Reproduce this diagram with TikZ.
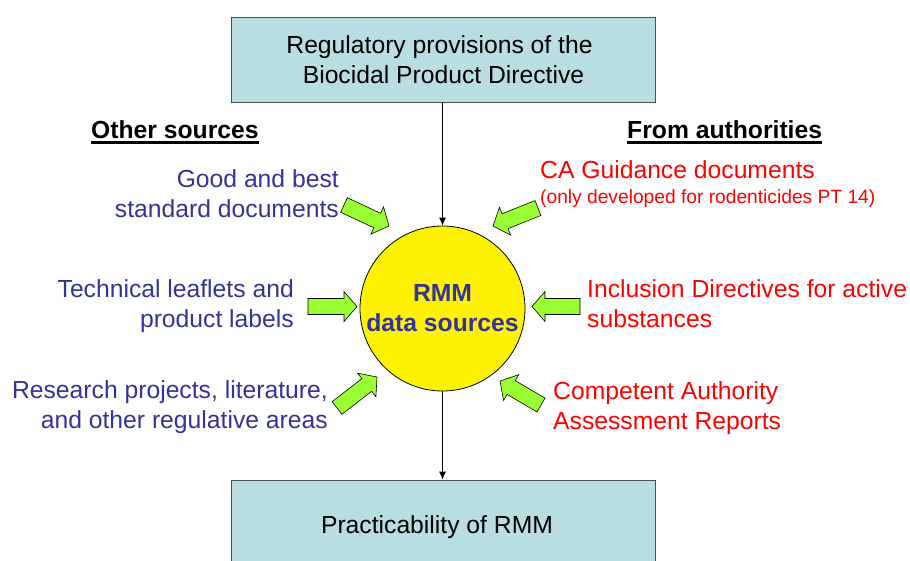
\documentclass[tikz,border=0pt]{standalone}
\usepackage{fontspec}
\setmainfont{Liberation Sans}
\usetikzlibrary{calc,arrows.meta}
\definecolor{boxfill}{RGB}{185,222,226}
\definecolor{boxline}{RGB}{70,80,80}
\definecolor{srcblue}{RGB}{51,51,153}
\definecolor{authred}{RGB}{255,0,0}
\definecolor{arrgreen}{RGB}{153,255,51}
\tikzset{
  bigfont/.style={font=\fontsize{24.7}{29.5}\selectfont},
  smallfont/.style={font=\fontsize{19.2}{23}\selectfont},
  mainbox/.style={draw=boxline,line width=0.8pt,fill=boxfill,inner sep=0pt,bigfont,align=center},
  srctext/.style={text=srcblue,bigfont,inner sep=0pt,align=right,anchor=east},
  authtext/.style={text=authred,bigfont,inner sep=0pt,align=left,anchor=west},
  heading/.style={font=\fontsize{24.7}{29.5}\selectfont\bfseries,inner sep=0pt,anchor=base west},
  uline/.style={line width=2.8pt},
  flow/.style={-{Latex[length=8pt,width=7pt]},line width=0.8pt},
  garrowstyle/.style={draw=black,line width=0.6pt,fill=arrgreen,line join=miter}
}
\newcommand{\garrow}[2]{%
  \path ($(#2)!13pt!(#1)$) coordinate (gh);
  \draw[garrowstyle] ($(#1)!8pt!90:(#2)$) -- ($(gh)!8pt!90:(#2)$) -- ($(gh)!15pt!90:(#2)$) -- (#2)
    -- ($(gh)!15pt!-90:(#2)$) -- ($(gh)!8pt!-90:(#2)$) -- ($(#1)!8pt!-90:(#2)$) -- cycle;
}
\begin{document}
\begin{tikzpicture}[x=1pt,y=-1pt]
\useasboundingbox (0,0) rectangle (910,560);
\fill[white] (0,0) rectangle (910,560);

% boxes
\node[mainbox,minimum width=424pt,minimum height=85pt] (top) at (443.5,59.5)
  {\hspace*{-8pt}Regulatory provisions of the\\Biocidal Product Directive};
\node[mainbox,minimum width=424pt,minimum height=94pt] (bot) at (443,527)
  {\hspace*{-12pt}Practicability of RMM};

% central circle
\node[circle,draw=black,line width=0.8pt,fill=yellow,minimum size=165pt,inner sep=0pt,
  text=srcblue,font=\fontsize{24.7}{30}\selectfont\bfseries,align=center] (rmm) at (442.5,308.5)
  {RMM\\data sources};

% flow arrows
\draw[flow] (top.south -| rmm.north) -- (rmm.north);
\draw[flow] (rmm.south) -- (bot.north -| rmm.south);

% headings
\node[heading] (os) at (91,138) {Other sources};
\draw[uline] ([yshift=-4.5pt]os.base west) -- ([yshift=-4.5pt]os.base east);
\node[heading] (fa) at (627,138) {From authorities};
\draw[uline] ([yshift=-4.5pt]fa.base west) -- ([yshift=-4.5pt]fa.base east);

% other sources texts
\node[srctext] (s1) at (339,193.5) {Good and best\\standard documents};
\node[srctext] (s2) at (294,306) {Technical leaflets and\\product labels};
\node[srctext] (s3) at (328,407) {Research projects, literature,\\and other regulative areas};

% authority texts
\node[text=authred,bigfont,inner sep=0pt,anchor=base west] (a1) at (540,178) {CA Guidance documents};
\node[text=authred,smallfont,inner sep=0pt,anchor=base west] (a1b) at (540,203) {(only developed for rodenticides PT 14)};
\node[authtext] (a2) at (587,303.5) {Inclusion Directives for active\\substances};
\node[authtext] (a3) at (553,408) {Competent Authority\\Assessment Reports};

% green arrows
\coordinate (t1) at (344,205); \coordinate (p1) at (389,226);
\coordinate (t2) at (538,208); \coordinate (p2) at (493,226);
\coordinate (t3) at (308,306.5); \coordinate (p3) at (357,306.5);
\coordinate (t4) at (580,306.5); \coordinate (p4) at (532,306.5);
\coordinate (t5) at (337,408); \coordinate (p5) at (377,377);
\coordinate (t6) at (541,405); \coordinate (p6) at (500,381);
\garrow{t1}{p1}
\garrow{t2}{p2}
\garrow{t3}{p3}
\garrow{t4}{p4}
\garrow{t5}{p5}
\garrow{t6}{p6}
\end{tikzpicture}
\end{document}
